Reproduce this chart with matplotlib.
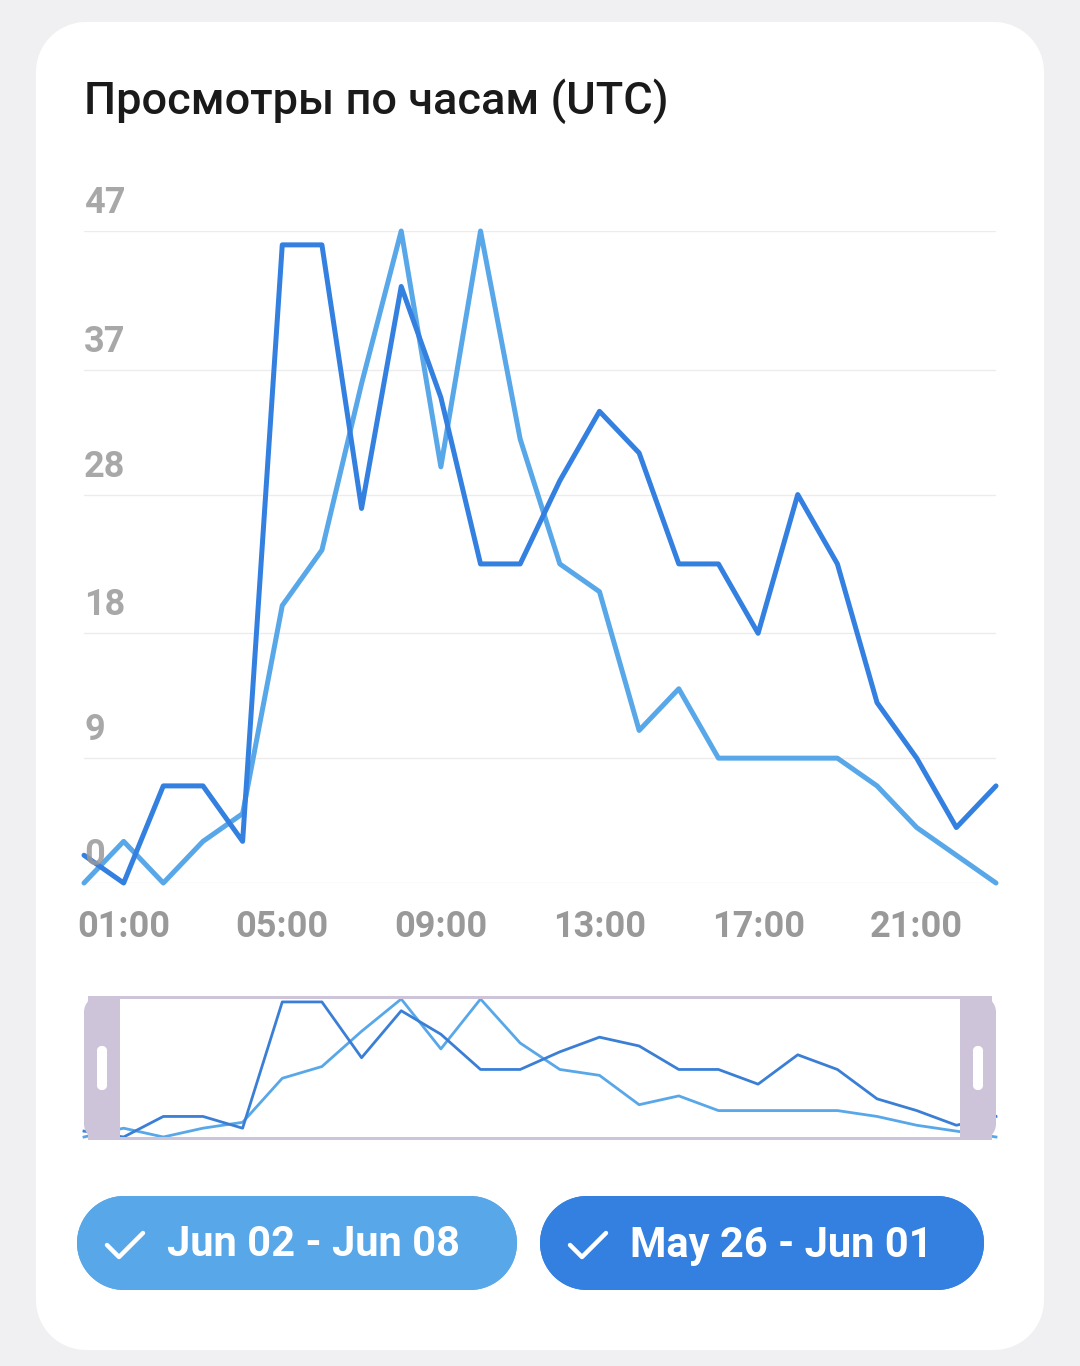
import matplotlib
matplotlib.use("Agg")
import matplotlib.pyplot as plt
from matplotlib.patches import FancyBboxPatch, Rectangle, Circle

# hourly views, 00:00 .. 23:00
hours = list(range(24))
views_jun = [0, 3, 0, 3, 5, 20, 24, 36, 47, 30, 47, 32, 23, 21, 11, 14, 9, 9, 9, 9, 7, 4, 2, 0]
views_may = [2, 0, 7, 7, 3, 46, 46, 27, 43, 35, 23, 23, 29, 34, 31, 23, 23, 18, 28, 23, 13, 9, 4, 7]

y_ticks = [0, 9, 18, 28, 37, 47]
x_ticks = [1, 5, 9, 13, 17, 21]
x_labels = ["01:00", "05:00", "09:00", "13:00", "17:00", "21:00"]

title = "Просмотры по часам (UTC)"
label_jun = "Jun 02 - Jun 08"
label_may = "May 26 - Jun 01"

c_light = "#58a7e8"
c_dark = "#3380e0"
c_grey = "#999999"

W, H = 1080, 1366
fig = plt.figure(figsize=(W / 100, H / 100), dpi=100)
fig.patch.set_facecolor("#f0f0f2")


def px_axes(x0, y0, x1, y1, **kw):
    # axes placed by pixel box (top-left origin)
    return fig.add_axes([x0 / W, 1 - y1 / H, (x1 - x0) / W, (y1 - y0) / H], **kw)


def rrect(a, x0, y0, x1, y1, r, color, left=True, right=True):
    # rounded rect from rectangles + corner circles
    a.add_patch(Rectangle((x0 + r, y0), x1 - x0 - 2 * r, y1 - y0, fc=color, ec="none"))
    a.add_patch(Rectangle((x0, y0 + r), x1 - x0, y1 - y0 - 2 * r, fc=color, ec="none"))
    for cx, cy, on in [(x0 + r, y0 + r, left), (x0 + r, y1 - r, left),
                       (x1 - r, y0 + r, right), (x1 - r, y1 - r, right)]:
        if on:
            a.add_patch(Circle((cx, cy), r, fc=color, ec="none"))
        else:
            a.add_patch(Rectangle((cx - r, cy - r), 2 * r, 2 * r, fc=color, ec="none"))


# background card + buttons
bg = px_axes(0, 0, W, H, zorder=0)
bg.set_xlim(0, W)
bg.set_ylim(H, 0)
bg.axis("off")
rrect(bg, 36, 22, 1044, 1350, 50, "white")


def button(x0, x1, color, text, tx):
    y0, y1 = 1196, 1290
    rrect(bg, x0, y0, x1, y1, (y1 - y0) / 2, color)
    cx = x0 + 30
    bg.plot([cx, cx + 12, cx + 36], [1245, 1257, 1233], color="white", lw=3.2,
            solid_capstyle="round", solid_joinstyle="round")
    bg.text(tx, 1245, text, color="white", fontsize=30, fontweight="bold",
            family="Roboto", va="center", ha="left")


button(77, 517, c_light, label_jun, 167)
button(540, 984, c_dark, label_may, 630)

bg.text(84, 101, title, fontsize=32.5, family="Roboto", fontweight="medium",
        color="#1a1a1a", va="center", ha="left")

# main chart
ax = px_axes(84, 231, 996, 883, zorder=1)
ax.set_xlim(0, 23)
ax.set_ylim(0, 47)
ax.axis("off")
for v in y_ticks:
    ax.axhline(v, color="#ececec", lw=1, zorder=0)
    ax.annotate(str(v), xy=(0, v), xytext=(0, 13), textcoords="offset points",
                va="baseline", ha="left", fontsize=26, fontweight="bold", family="Roboto",
                color=c_grey, alpha=0.85, zorder=5)
for h, lab in zip(x_ticks, x_labels):
    ax.annotate(lab, xy=(h, 0), xytext=(0, -39), textcoords="offset points",
                va="baseline", ha="center", fontsize=26, fontweight="bold", family="Roboto",
                color=c_grey, annotation_clip=False)
ax.plot(hours, views_jun, color=c_light, lw=3.6, clip_on=False, zorder=2,
        solid_joinstyle="round", solid_capstyle="round")
ax.plot(hours, views_may, color=c_dark, lw=3.6, clip_on=False, zorder=3,
        solid_joinstyle="round", solid_capstyle="round")

# navigator
mini = px_axes(84, 999, 996, 1137, zorder=1)
mini.set_xlim(0, 23)
mini.set_ylim(0, 47)
mini.axis("off")
mini.patch.set_alpha(0)
mini.plot(hours, views_jun, color=c_light, lw=2.0, clip_on=False)
mini.plot(hours, views_may, color="#3a7fd5", lw=2.0, clip_on=False)

ov = px_axes(0, 0, W, H, zorder=2)
ov.set_xlim(0, W)
ov.set_ylim(H, 0)
ov.axis("off")
ov.patch.set_alpha(0)
hc = "#cdc4d9"
ov.add_patch(Rectangle((110, 996), 860, 3, fc=hc, ec="none"))
ov.add_patch(Rectangle((110, 1137), 860, 3, fc=hc, ec="none"))
rrect(ov, 84, 996, 120, 1140, 16, hc, left=True, right=False)
rrect(ov, 960, 996, 996, 1140, 16, hc, left=False, right=True)
for hx in (97, 973):
    rrect(ov, hx, 1046, hx + 10, 1090, 5, "white")

fig.savefig("out.png", dpi=100)
